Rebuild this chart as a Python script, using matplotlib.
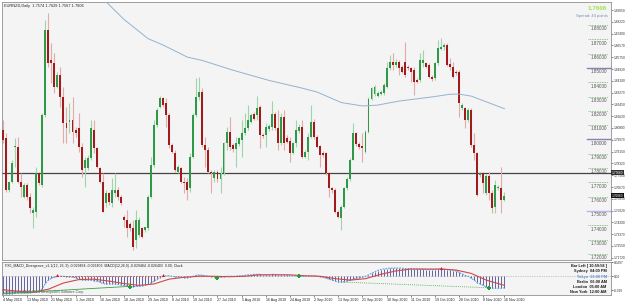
import matplotlib
matplotlib.use("Agg")
import matplotlib.pyplot as plt
import numpy as np

plt.rcParams['font.family'] = ['Liberation Sans', 'DejaVu Sans']

# ---------------- data ----------------
symbol_title = "EURNZD,Daily  1.7574 1.7629 1.7567 1.7606"
last_price = "1.7606"
spread_text = "Spread: 44 points"

opens = [1.8066,1.8008,1.7646,1.7705,1.7945,1.7949,1.7700,1.7600,1.7681,1.7600,
         1.7488,1.7495,1.7763,1.7681,1.8171,1.8765,1.8555,1.8532,1.8369,1.8450,
         1.8299,1.8113,1.8124,1.8136,1.8066,1.8078,1.7949,1.7798,1.7798,1.7868,
         1.8066,1.7938,1.7798,1.7705,1.7553,1.7623,1.7558,1.7623,1.7646,1.7600,
         1.7460,1.7436,1.7409,1.7378,1.7296,1.7331,1.7378,1.7366,1.7378,1.7600,
         1.7821,1.8101,1.8229,1.8287,1.8252,1.8171,1.7961,1.7903,1.7774,1.7798,
         1.7705,1.7705,1.7658,1.7879,1.8171,1.8299,1.8334,1.7961,1.7926,1.7774,
         1.7728,1.7774,1.7721,1.7763,1.7973,1.8054,1.7961,1.7931,1.7968,1.7996,
         1.8043,1.8078,1.8124,1.8175,1.8171,1.8225,1.8031,1.8031,1.8075,1.8085,
         1.8178,1.8078,1.7973,1.8155,1.8008,1.7991,1.7907,1.7973,1.8061,1.8085,
         1.7875,1.7914,1.8015,1.8124,1.8019,1.7954,1.7907,1.7903,1.7763,1.7658,
         1.7646,1.7495,1.7448,1.7530,1.7658,1.7721,1.7856,1.8043,1.7968,1.7954,
         1.7914,1.8054,1.8283,1.8318,1.8304,1.8318,1.8322,1.8369,1.8497,1.8544,
         1.8520,1.8544,1.8509,1.8544,1.8509,1.8497,1.8485,1.8415,1.8415,1.8532,
         1.8532,1.8520,1.8439,1.8427,1.8532,1.8630,1.8649,1.8660,1.8525,1.8509,
         1.8474,1.8474,1.8218,1.8218,1.8136,1.8206,1.7961,1.7903,1.7751,1.7767,
         1.7623,1.7744,1.7623,1.7530,1.7658,1.7658,1.7574]
highs = [1.8136,1.8043,1.7705,1.7856,1.8008,1.8019,1.7763,1.7693,1.7693,1.7623,
         1.7530,1.7809,1.7774,1.8182,1.8835,1.8884,1.8672,1.8602,1.8474,1.8509,
         1.8369,1.8229,1.8252,1.8299,1.8089,1.8182,1.7973,1.7879,1.7891,1.8136,
         1.8136,1.7949,1.7809,1.7763,1.7646,1.7635,1.7728,1.7763,1.7670,1.7611,
         1.7471,1.7506,1.7425,1.7436,1.7506,1.7460,1.7390,1.7390,1.7611,1.7879,
         1.8136,1.8218,1.8304,1.8299,1.8287,1.8182,1.7973,1.7926,1.7821,1.7809,
         1.7739,1.7728,1.7903,1.8182,1.8427,1.8439,1.8357,1.8019,1.7949,1.7786,
         1.7786,1.7786,1.7809,1.7984,1.8089,1.8159,1.7973,1.8019,1.8019,1.8136,
         1.8182,1.8241,1.8182,1.8194,1.8304,1.8241,1.8047,1.8113,1.8108,1.8271,
         1.8194,1.8206,1.8182,1.8206,1.8031,1.8019,1.7984,1.8136,1.8108,1.8136,
         1.7926,1.8043,1.8241,1.8140,1.8031,1.7961,1.7921,1.7914,1.7774,1.7670,
         1.7658,1.7506,1.7541,1.7670,1.7739,1.7868,1.8113,1.8054,1.7984,1.8043,
         1.8066,1.8294,1.8369,1.8380,1.8341,1.8346,1.8392,1.8544,1.8590,1.8602,
         1.8560,1.8555,1.8520,1.8684,1.8520,1.8509,1.8509,1.8427,1.8602,1.8625,
         1.8544,1.8532,1.8450,1.8544,1.8695,1.8707,1.8672,1.8672,1.8567,1.8544,
         1.8485,1.8485,1.8252,1.8229,1.8218,1.8218,1.8047,1.7914,1.7774,1.7774,
         1.7758,1.7774,1.7646,1.7716,1.7681,1.7805,1.7629]
lows = [1.7973,1.7635,1.7635,1.7693,1.7809,1.7693,1.7600,1.7588,1.7576,1.7483,
        1.7378,1.7460,1.7681,1.7670,1.8159,1.8509,1.8392,1.8322,1.8357,1.8229,
        1.7973,1.7973,1.8043,1.7973,1.8019,1.7914,1.7739,1.7670,1.7786,1.7856,
        1.7903,1.7798,1.7693,1.7495,1.7530,1.7541,1.7530,1.7600,1.7576,1.7541,
        1.7390,1.7320,1.7362,1.7227,1.7239,1.7320,1.7308,1.7355,1.7366,1.7588,
        1.7809,1.8089,1.8218,1.8229,1.8089,1.7938,1.7903,1.7774,1.7763,1.7693,
        1.7623,1.7576,1.7635,1.7868,1.8159,1.8276,1.7949,1.7809,1.7763,1.7623,
        1.7705,1.7705,1.7623,1.7751,1.7926,1.7926,1.7914,1.7809,1.7954,1.7879,
        1.8031,1.8066,1.8113,1.8136,1.8136,1.7938,1.8008,1.7949,1.8061,1.8066,
        1.8066,1.7926,1.7961,1.7926,1.7973,1.7844,1.7898,1.7949,1.8047,1.7868,
        1.7868,1.7856,1.8008,1.8001,1.7938,1.7809,1.7879,1.7751,1.7600,1.7628,
        1.7483,1.7448,1.7366,1.7518,1.7646,1.7709,1.7856,1.7954,1.7931,1.7844,
        1.7903,1.8043,1.8276,1.8304,1.8294,1.8308,1.8311,1.8357,1.8485,1.8485,
        1.8509,1.8450,1.8462,1.8439,1.8485,1.8404,1.8311,1.8392,1.8404,1.8509,
        1.8497,1.8427,1.8411,1.8415,1.8520,1.8625,1.8625,1.8513,1.8485,1.8427,
        1.8450,1.8159,1.8206,1.8078,1.8124,1.7949,1.7856,1.7604,1.7739,1.7623,
        1.7611,1.7576,1.7483,1.7483,1.7646,1.7488,1.7567]
closes = [1.7996,1.7646,1.7705,1.7833,1.7954,1.7705,1.7670,1.7681,1.7600,1.7518,
          1.7506,1.7763,1.7693,1.8171,1.8765,1.8532,1.8532,1.8369,1.8450,1.8299,
          1.8113,1.8078,1.8136,1.8054,1.8043,1.7949,1.7786,1.7856,1.7868,1.8078,
          1.7938,1.7809,1.7705,1.7495,1.7623,1.7565,1.7646,1.7646,1.7600,1.7553,
          1.7436,1.7378,1.7378,1.7250,1.7436,1.7436,1.7320,1.7390,1.7600,1.7821,
          1.8101,1.8206,1.8287,1.8241,1.8171,1.7961,1.7914,1.7786,1.7809,1.7705,
          1.7693,1.7646,1.7879,1.8171,1.8299,1.8334,1.7961,1.7926,1.7774,1.7763,
          1.7774,1.7721,1.7763,1.7973,1.8054,1.7949,1.7931,1.7973,1.8008,1.8043,
          1.8078,1.8136,1.8171,1.8140,1.8218,1.8031,1.8024,1.8085,1.8094,1.8178,
          1.8078,1.7973,1.8155,1.7973,1.7984,1.7907,1.7973,1.8066,1.8085,1.7875,
          1.7914,1.8015,1.8124,1.8015,1.7949,1.7891,1.7891,1.7763,1.7658,1.7646,
          1.7495,1.7460,1.7530,1.7658,1.7721,1.7856,1.8043,1.7968,1.7949,1.7938,
          1.8054,1.8283,1.8357,1.8369,1.8327,1.8334,1.8380,1.8497,1.8544,1.8520,
          1.8544,1.8497,1.8474,1.8450,1.8497,1.8474,1.8404,1.8404,1.8555,1.8555,
          1.8509,1.8439,1.8420,1.8532,1.8637,1.8649,1.8660,1.8520,1.8509,1.8439,
          1.8462,1.8252,1.8241,1.8136,1.8206,1.7961,1.7903,1.7611,1.7767,1.7693,
          1.7744,1.7623,1.7518,1.7681,1.7670,1.7576,1.7606]

# long moving average (read at selected bars)
ma_idx = [30, 34, 40, 48, 53, 61, 66, 76, 88, 99, 104, 112, 119, 124, 131, 142, 148, 151, 155, 160, 166]
ma_val = [1.9020, 1.8965, 1.8840, 1.8705, 1.8660, 1.8576, 1.8552, 1.8485, 1.8413, 1.8359,
          1.8331, 1.8258, 1.8234, 1.8240, 1.8268, 1.8297, 1.8316, 1.8317, 1.8303, 1.8263, 1.8215]

hline_price = 1.7766
level_prices = [1.88, 1.87, 1.86, 1.85, 1.84, 1.83, 1.82, 1.81, 1.80, 1.79, 1.78, 1.77, 1.76, 1.75, 1.74, 1.73, 1.72]
major_levels = [1.85, 1.80, 1.75]
right_ticks = [1.8905, 1.8822, 1.8740, 1.8657, 1.8575, 1.8492, 1.8410, 1.8327, 1.8245, 1.8162,
               1.8080, 1.7997, 1.7915, 1.7832, 1.7750, 1.7667, 1.7585, 1.7502, 1.7420, 1.7337, 1.7255, 1.7172]

date_labels = ["4 May 2010", "13 May 2010", "21 May 2010", "1 Jun 2010", "10 Jun 2010", "18 Jun 2010",
               "29 Jun 2010", "8 Jul 2010", "19 Jul 2010", "27 Jul 2010", "5 Aug 2010", "16 Aug 2010",
               "24 Aug 2010", "2 Sep 2010", "13 Sep 2010", "21 Sep 2010", "30 Sep 2010", "11 Oct 2010",
               "19 Oct 2010", "28 Oct 2010", "8 Nov 2010", "16 Nov 2010"]
date_idx = [0, 8, 16, 24, 32, 40, 48, 56, 63, 71, 79, 87, 95, 103, 111, 119, 127, 135, 143, 151, 159, 166]

# MACD panel (values read per bar)
macd = [-0.036,-0.037,-0.037,-0.036,-0.035,-0.035,-0.035,-0.035,-0.035,-0.034,
        -0.033,-0.033,-0.032,-0.026,-0.015,-0.008,-0.004,-0.002,0.000,0.000,
        0.000,-0.001,-0.001,-0.002,-0.003,-0.005,-0.007,-0.008,-0.008,-0.008,
        -0.009,-0.010,-0.012,-0.015,-0.016,-0.016,-0.016,-0.016,-0.017,-0.018,
        -0.019,-0.020,-0.021,-0.022,-0.021,-0.021,-0.020,-0.019,-0.017,-0.014,
        -0.010,-0.006,-0.003,0.000,0.001,0.001,0.000,-0.001,-0.001,-0.002,
        -0.003,-0.003,-0.002,0.000,0.002,0.003,0.002,0.001,0.000,-0.001,
        -0.001,-0.002,-0.002,-0.001,0.000,0.000,0.000,0.000,0.001,0.001,
        0.002,0.003,0.003,0.004,0.004,0.004,0.003,0.003,0.003,0.004,
        0.004,0.003,0.003,0.003,0.002,0.001,0.001,0.001,0.001,0.000,
        0.000,0.000,0.001,0.001,0.000,-0.001,-0.002,-0.004,-0.006,-0.008,
        -0.010,-0.012,-0.012,-0.011,-0.010,-0.008,-0.006,-0.004,-0.003,-0.002,
        0.000,0.003,0.006,0.009,0.012,0.014,0.015,0.016,0.017,0.017,
        0.017,0.017,0.017,0.016,0.016,0.016,0.015,0.015,0.015,0.015,
        0.014,0.014,0.014,0.014,0.015,0.015,0.015,0.014,0.013,0.012,
        0.011,0.008,0.005,0.002,0.000,-0.004,-0.008,-0.013,-0.016,-0.019,
        -0.022,-0.024,-0.025,-0.025,-0.025,-0.025,-0.024]
sig_idx = [0, 5, 10, 15, 20, 25, 30, 35, 40, 45, 50, 55, 60, 65, 70, 75, 80, 85, 90, 95,
           100, 105, 110, 115, 120, 125, 130, 135, 140, 145, 150, 155, 160, 166]
sig_val = [-0.028,-0.031,-0.033,-0.027,-0.014,-0.007,-0.006,-0.010,-0.015,-0.019,
           -0.016,-0.006,-0.002,0.000,0.000,-0.001,0.000,0.003,0.003,0.003,
           0.001,0.000,-0.005,-0.008,-0.005,0.004,0.011,0.015,0.015,0.015,
           0.013,0.006,-0.008,-0.019]
bear_div_idx = [18, 53, 145]
bull_div_idx = [42, 71, 98, 161]
macd_title = "FX5_MACD_Divergence_v1.1(12, 26, 9) -0.029484 -0.026403  MACD(12,26,9) -0.029484 -0.026403  0.00, Clock"
clock_lines = ["Bar Left [ 10:59:58 ]", "Sydney  04:00 PM", "Tokyo  02:00 PM", "Berlin  06:00 AM",
               "London  05:00 AM", "New York  12:00 AM"]
macd_ticks = [0.0297, 0.0, -0.0290]
macd_tick_labels = ["0.0297", "0.00", "-0.029"]
copyright_text = "Copyright \u00a9 2001-2010 MetaQuotes Software Corp."

# ---------------- figure ----------------
W, H = 625, 303
fig = plt.figure(figsize=(W / 100, H / 100), dpi=100, facecolor='white')

def box(x0, y0, x1, y1):
    return [x0 / W, 1 - y1 / H, (x1 - x0) / W, (y1 - y0) / H]

bg = '#f4f4f4'
ax = fig.add_axes(box(2, 2, 611, 260), facecolor=bg)
axm = fig.add_axes(box(2, 262, 611, 295), facecolor=bg)

n = len(closes)
x = np.arange(n)
o = np.array(opens); h = np.array(highs); l = np.array(lows); c = np.array(closes)
up = c >= o

green_body, red_body = '#2e9a48', '#a01c1c'
green_wick, red_wick = '#9fd4aa', '#e2aaaa'

ax.vlines(x[up], l[up], h[up], color=green_wick, lw=0.8, zorder=2)
ax.vlines(x[~up], l[~up], h[~up], color=red_wick, lw=0.8, zorder=2)
bh = np.maximum(np.abs(c - o), 0.0004)
bb = np.minimum(o, c)
ax.bar(x[up], bh[up], bottom=bb[up], width=0.64, color=green_body, lw=0, zorder=3)
ax.bar(x[~up], bh[~up], bottom=bb[~up], width=0.64, color=red_body, lw=0, zorder=3)

ax.plot(ma_idx, ma_val, color='#93b3cf', lw=0.7, zorder=4)
ax.axhline(hline_price, color='#444444', lw=0.9, zorder=1)

x0lim, x1lim = -0.35, 201.3
ax.set_xlim(x0lim, x1lim)
ax.set_ylim(1.7157, 1.8961)

# round level markers near right edge
for lv in level_prices:
    if any(abs(lv - m) < 1e-9 for m in major_levels):
        col = '#b6b6ee' if abs(lv - 1.75) < 1e-9 else '#8282b4'
        ax.plot([193.2, 201.3], [lv, lv], color=col, lw=1.0, zorder=2, clip_on=False)
    else:
        ax.plot([193.7, 200.3], [lv, lv], color='#5cb85c', lw=0.6, ls=(0, (1, 1)), zorder=2)
    ax.text(199.9, lv - 0.0009, f"{lv:.5f}", fontsize=3.3, color='#555555',
            ha='right', va='top', zorder=5)

ax.set_xticks([])
ax.yaxis.tick_right()
ax.set_yticks(right_ticks)
ax.set_yticklabels([f"{t:.5f}" for t in right_ticks], fontsize=2.3, color='#333333')
ax.tick_params(axis='y', length=1.2, width=0.4, pad=0.6, colors='#333333')
for s in ax.spines.values():
    s.set_color('#909090'); s.set_linewidth(0.6)

ax.text(0.004, 0.992, symbol_title, transform=ax.transAxes, fontsize=2.8, color='#222222',
        ha='left', va='top')
ax.text(0.993, 0.985, last_price, transform=ax.transAxes, fontsize=4.6, color='#a2e050',
        ha='right', va='top', fontweight='bold')
ax.text(0.995, 0.955, spread_text, transform=ax.transAxes, fontsize=3.0, color='#7890b0',
        ha='right', va='top')

# price label highlights on right axis
for pv, fc in [(hline_price, '#303030'), (1.7606, '#101010')]:
    ax.text(1.0015, pv, f"{pv:.5f}", transform=ax.get_yaxis_transform(), fontsize=2.3,
            color='white', ha='left', va='center',
            bbox=dict(boxstyle='square,pad=0.15', fc=fc, ec='none'), clip_on=False)

# ---------------- MACD ----------------
mac = np.array(macd)
axm.vlines(x, 0, mac, color='#3c3c88', lw=0.55, zorder=2)
axm.plot(x, mac, color='#5a9ee0', lw=0.8, ls=(0, (1.5, 1)), zorder=3)
axm.plot(sig_idx, sig_val, color='#d04848', lw=0.8, zorder=4)
axm.axhline(0, color='#9a9a9a', lw=0.5, ls=(0, (1, 1.5)), zorder=1)

axm.plot([0, bull_div_idx[0]], [mac[0], mac[bull_div_idx[0]]], color='#3aa046', lw=0.6, zorder=4)
axm.plot([bear_div_idx[0], bear_div_idx[1]], [mac[bear_div_idx[0]], mac[bear_div_idx[1]]],
         color='#d04848', lw=0.6, ls=(0, (2, 1.5)), zorder=4)
axm.plot([112, bull_div_idx[3]], [mac[112], mac[bull_div_idx[3]]], color='#3aa046', lw=0.6,
         ls=(0, (1, 1.5)), zorder=4)
axm.scatter(bear_div_idx, mac[bear_div_idx] + 0.002, marker='^', s=5, color='#d02020', zorder=5, lw=0)
axm.scatter(bull_div_idx, mac[bull_div_idx] - 0.001, marker='P', s=5, color='#20a030', zorder=5, lw=0)

axm.set_xlim(x0lim, x1lim)
axm.set_ylim(-0.0390, 0.0254)
axm.yaxis.tick_right()
axm.set_yticks(macd_ticks)
axm.set_yticklabels(macd_tick_labels, fontsize=2.3, color='#333333')
axm.tick_params(axis='y', length=1.2, width=0.4, pad=0.6)
axm.set_xticks(date_idx)
axm.set_xticklabels(date_labels, fontsize=2.6, color='#222222', ha='left')
axm.tick_params(axis='x', length=1.5, width=0.4, pad=0.8, colors='#222222')
for s in axm.spines.values():
    s.set_color('#909090'); s.set_linewidth(0.6)

axm.text(0.005, 0.93, macd_title, transform=axm.transAxes, fontsize=2.5, color='#222222',
         ha='left', va='top')
axm.text(0.002, 0.03, copyright_text, transform=axm.transAxes, fontsize=2.5, color='#555555',
         ha='left', va='bottom')
for k, line in enumerate(clock_lines):
    col = '#6090d0' if line.startswith('Tokyo') else '#1a1a1a'
    axm.text(0.993, 0.93 - k * 0.155, line, transform=axm.transAxes, fontsize=2.8, color=col,
             ha='right', va='top', fontweight='bold')

fig.savefig('out.png', dpi=100, facecolor='white')
